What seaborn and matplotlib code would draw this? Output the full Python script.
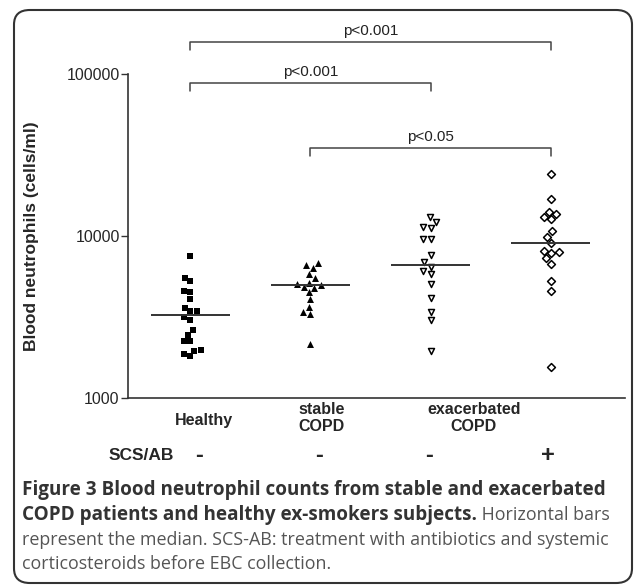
import numpy as np
import pandas as pd
import matplotlib
matplotlib.use("Agg")
import matplotlib.pyplot as plt
import matplotlib.transforms as mtransforms
from matplotlib.patches import FancyBboxPatch
import seaborn as sns

# blood neutrophils (cells/ml)
groups = ["Healthy", "stable COPD", "exacerbated COPD -", "exacerbated COPD +"]
healthy = [7550, 5540, 5240, 4570, 4510, 4060, 3610, 3440, 3440, 3160,
           3050, 2620, 2460, 2260, 2260, 1990, 1960, 1880, 1820]
stable_copd = [6800, 6640, 6330, 5810, 5480, 5160, 5040, 4990, 4850, 4800,
               4510, 4100, 3640, 3390, 3310, 2160]
exac_untreated = [13060, 12170, 11330, 11210, 9580, 9580, 7650, 6920, 6480,
                  6090, 5810, 5040, 4150, 3410, 3050, 1940]
exac_treated = [24270, 16980, 14160, 13700, 13180, 12760, 10690, 9900, 9050,
                8110, 7930, 7840, 7270, 6700, 5280, 4570, 1560]
medians = [3270, 4970, 6640, 9050]
scs_ab = ["-", "-", "-", "+"]
group_labels = ["Healthy", "stable\nCOPD", "exacerbated\nCOPD"]
comparisons = [(0, 3, "p<0.001"), (0, 2, "p<0.001"), (1, 3, "p<0.05")]

values = [healthy, stable_copd, exac_untreated, exac_treated]
df = pd.DataFrame({
    "group": np.repeat(groups, [len(v) for v in values]),
    "neutrophils": np.concatenate(values),
})

sns.set_style("ticks")
plt.rcParams["font.family"] = ["Liberation Sans", "DejaVu Sans"]

fig = plt.figure(figsize=(6.35, 5.85), dpi=100)
ax = fig.add_axes([128 / 635, 1 - 398 / 585, 497 / 635, 324 / 585])

markers = {
    "Healthy": dict(marker="s", color="black", edgecolor="black", linewidth=0, size=4.5),
    "stable COPD": dict(marker="^", color="black", edgecolor="black", linewidth=0, size=5),
    "exacerbated COPD -": dict(marker="v", color="white", edgecolor="black", linewidth=1.1, size=4.3),
    "exacerbated COPD +": dict(marker="D", color="white", edgecolor="black", linewidth=1.1, size=4.0),
}
for g in groups:
    sns.swarmplot(data=df[df["group"] == g], x="group", y="neutrophils",
                  order=groups, log_scale=True, ax=ax, **markers[g])

# median bars
ax.hlines(medians, np.arange(len(groups)) - 0.33, np.arange(len(groups)) + 0.33,
          color="#333333", linewidth=1.4, zorder=3)

ax.set_yscale("log")
ax.set_ylim(1000, 100000)
ax.set_xlim(-0.52, 3.62)
ax.set_yticks([1000, 10000, 100000])
ax.set_yticklabels(["1000", "10000", "100000"])
ax.yaxis.set_minor_locator(matplotlib.ticker.NullLocator())
ax.set_xticks([])
ax.set_xlabel("")
ax.tick_params(axis="y", labelsize=11.5, length=5, width=1, color="#333333", pad=1)
ax.set_ylabel("Blood neutrophils (cells/ml)", fontsize=12.5, fontweight="bold")
ax.yaxis.set_label_coords(-0.18, 0.5)
for side in ["top", "right"]:
    ax.spines[side].set_visible(False)
for side in ["left", "bottom"]:
    ax.spines[side].set_color("#333333")
    ax.spines[side].set_linewidth(1.2)

trans = mtransforms.blended_transform_factory(ax.transData, ax.transAxes)

# significance brackets
bracket_y = [1.099, 0.972, 0.772]
for (a, b, txt), y in zip(comparisons, bracket_y):
    ax.plot([a, a, b, b], [y - 0.025, y, y, y - 0.025], color="#444444",
            linewidth=1.1, transform=trans, clip_on=False)
    ax.text((a + b) / 2, y + 0.012, txt, transform=trans, ha="center",
            va="bottom", fontsize=11, color="#222222")

# group labels and treatment row
ax.text(0.11, -0.068, group_labels[0], transform=trans, ha="center", va="center",
        fontsize=11.5, fontweight="bold")
ax.text(1.09, -0.062, group_labels[1], transform=trans, ha="center", va="center",
        fontsize=11.5, fontweight="bold", linespacing=1.2)
ax.text(2.36, -0.062, group_labels[2], transform=trans, ha="center", va="center",
        fontsize=11.5, fontweight="bold", linespacing=1.2)
for x, s in zip([0.07, 1.07, 1.99, 2.98], scs_ab):
    ax.text(x, -0.179, s, transform=trans, ha="center", va="center",
            fontsize=17, fontweight="bold")
ax.text(-0.41, -0.179, "SCS/AB", transform=trans, ha="center", va="center",
        fontsize=12.5, fontweight="bold")

# caption
cap_font = ["Open Sans", "DejaVu Sans"]
bold_size = 13.6
reg_size = 12.85
fig.text(22 / 635, 1 - 490 / 585,
         "Figure 3 Blood neutrophil counts from stable and exacerbated",
         fontsize=bold_size, fontweight="bold", color="#333333", family=cap_font, va="center")
t2 = fig.text(22 / 635, 1 - 515 / 585,
              "COPD patients and healthy ex-smokers subjects.",
              fontsize=bold_size, fontweight="bold", color="#333333", family=cap_font, va="center")
fig.canvas.draw()
x_end = t2.get_window_extent(fig.canvas.get_renderer()).x1 / fig.bbox.width
fig.text(x_end, 1 - 515 / 585, " Horizontal bars", fontsize=reg_size, color="#555555",
         family=cap_font, va="center")
fig.text(22 / 635, 1 - 540 / 585,
         "represent the median. SCS-AB: treatment with antibiotics and systemic",
         fontsize=reg_size, color="#555555", family=cap_font, va="center")
fig.text(22 / 635, 1 - 564 / 585, "corticosteroids before EBC collection.",
         fontsize=reg_size, color="#555555", family=cap_font, va="center")

# rounded frame around the whole panel
frame = FancyBboxPatch((14 / 635, 2 / 585), 618 / 635, 573 / 585,
                       boxstyle="round,pad=0,rounding_size=0.025",
                       transform=fig.transFigure, fill=False,
                       edgecolor="#333333", linewidth=1.5)
fig.patches.append(frame)

fig.savefig("out.png", dpi=100)
